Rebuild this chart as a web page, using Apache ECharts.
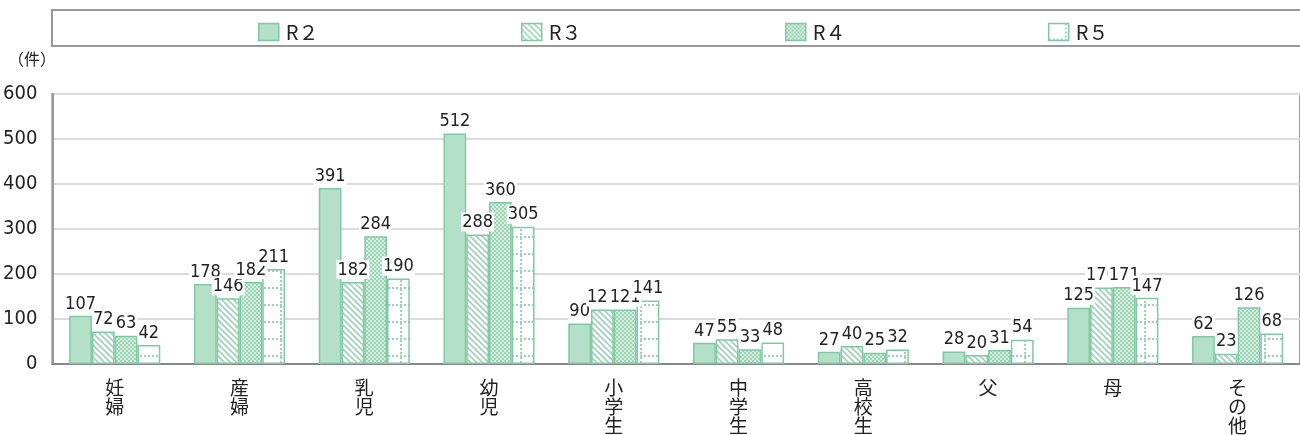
<!DOCTYPE html>
<html>
<head>
<meta charset="utf-8">
<script src="https://cdn.jsdelivr.net/npm/echarts@6/dist/echarts.min.js"></script>
<style>
  html, body { margin: 0; padding: 0; background: #fff; }
  #chart { width: 1300px; height: 435px; }
</style>
</head>
<body>
<div id="chart"></div>
<script>
const categories = ['妊婦', '産婦', '乳児', '幼児', '小学生', '中学生', '高校生', '父', '母', 'その他']
const seriesNames = ['R２', 'R３', 'R４', 'R５']
const r2 = [107, 178, 391, 512, 90, 47, 27, 28, 125, 62]
const r3 = [72, 146, 182, 288, 121, 55, 40, 20, 170, 23]
const r4 = [63, 182, 284, 360, 121, 33, 25, 31, 171, 126]
const r5 = [42, 211, 190, 305, 141, 48, 32, 54, 147, 68]
const yTicks = [0, 100, 200, 300, 400, 500, 600]

const MINT = '#b4dfc9'
const EDGE = '#80c9a5'
const NUM_FONT = '"DejaVu Sans Condensed", "DejaVu Sans", sans-serif'
const CJK_FONT = '"Noto Sans CJK JP", sans-serif'

// 塗りパターン
function makeTile(w, h, draw) {
  const c = document.createElement('canvas')
  c.width = w
  c.height = h
  draw(c.getContext('2d'))
  return { image: c, repeat: 'repeat' }
}

const stripe = makeTile(6, 6, ctx => {
  ctx.fillStyle = '#fff'
  ctx.fillRect(0, 0, 6, 6)
  ctx.strokeStyle = '#9ad5b8'
  ctx.lineWidth = 1.6
  ctx.beginPath()
  ctx.moveTo(-1, -1); ctx.lineTo(7, 7)
  ctx.moveTo(-4, 2); ctx.lineTo(4, 10)
  ctx.moveTo(2, -4); ctx.lineTo(10, 4)
  ctx.stroke()
})

const checker = makeTile(4, 4, ctx => {
  ctx.fillStyle = '#d3eede'
  ctx.fillRect(0, 0, 4, 4)
  ctx.fillStyle = '#9fd4b8'
  ctx.fillRect(0, 0, 2, 2)
  ctx.fillRect(2, 2, 2, 2)
})

const dotGrid = makeTile(24, 17, ctx => {
  ctx.fillStyle = '#fff'
  ctx.fillRect(0, 0, 24, 17)
  ctx.fillStyle = '#9ad5b8'
  for (let y = 0; y < 17; y += 4) ctx.fillRect(16, y, 2, 2)
  for (let x = 0; x < 24; x += 4) ctx.fillRect(x, 15, 2, 2)
})

const fills = [MINT, stripe, checker, dotGrid]
const values = [r2, r3, r4, r5]
const legendLeft = [253, 516, 780, 1043]

const chart = echarts.init(document.getElementById('chart'))

const series = seriesNames.map((name, i) => ({
  name,
  type: 'bar',
  barGap: '0%',
  barCategoryGap: '27%',
  itemStyle: { color: fills[i], borderColor: EDGE, borderWidth: 1.5 },
  label: {
    show: true,
    position: 'top',
    distance: 3,
    fontFamily: NUM_FONT,
    fontSize: 18,
    color: '#222',
    backgroundColor: '#fff',
    padding: [1, 1, 0, 1],
  },
  data: values[i],
}))

chart.setOption({
  animation: false,
  textStyle: { fontFamily: NUM_FONT },
  legend: seriesNames.map((name, i) => ({
    data: [{ name, icon: 'rect' }],
    left: legendLeft[i],
    top: 17,
    itemWidth: 20,
    itemHeight: 17,
    itemGap: 0,
    selectedMode: false,
    itemStyle: { borderWidth: 1.5 },
    textStyle: { fontFamily: CJK_FONT, fontSize: 20, color: '#222', padding: [0, 0, 0, 2] },
  })),
  graphic: [
    {
      type: 'rect',
      shape: { x: 52, y: 10, width: 1300, height: 36 },
      style: { fill: 'none', stroke: '#999', lineWidth: 2 },
      z: -1,
    },
    {
      type: 'text',
      left: 8,
      top: 51,
      style: { text: '（件）', fontFamily: CJK_FONT, fontSize: 16, fill: '#222' },
    },
  ],
  grid: {
    left: 52,
    top: 94,
    width: 1260,
    height: 273,
    show: true,
    borderColor: '#999',
    borderWidth: 2,
    backgroundColor: 'transparent',
  },
  xAxis: {
    type: 'category',
    data: categories,
    axisLine: { lineStyle: { color: '#888', width: 2 } },
    axisTick: { show: false },
    axisLabel: {
      margin: 14,
      fontFamily: CJK_FONT,
      fontSize: 19,
      lineHeight: 19,
      color: '#222',
      formatter: v => v.split('').join('\n'),
    },
  },
  yAxis: {
    type: 'value',
    min: yTicks[0],
    max: yTicks[yTicks.length - 1],
    interval: 100,
    axisLine: { show: true, lineStyle: { color: '#999', width: 2 } },
    axisTick: { show: false },
    splitLine: { lineStyle: { color: '#dcdcdc', width: 2 } },
    axisLabel: { margin: 15, fontFamily: NUM_FONT, fontSize: 20, color: '#222' },
  },
  series,
})
</script>
</body>
</html>
